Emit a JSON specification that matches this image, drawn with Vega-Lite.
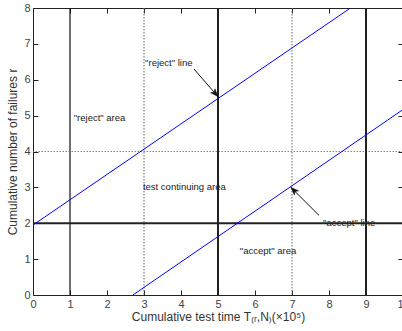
{
  "$schema": "https://vega.github.io/schema/vega-lite/v6.json",
  "width": 370,
  "height": 287,
  "autosize": "none",
  "padding": {"left": 33, "top": 8, "right": 0, "bottom": 36},
  "background": "white",
  "config": {
    "font": "Liberation Sans",
    "view": {"stroke": "#222", "strokeWidth": 1},
    "axis": {
      "grid": false, "domain": false, "tickColor": "#222", "tickSize": -5, "labelFlush": false,
      "labelColor": "#444", "labelFontSize": 11, "titleFontSize": 12,
      "titleFontWeight": "normal", "titleColor": "#333", "labelFont": "Liberation Sans", "titleFont": "Liberation Sans"
    }
  },
  "layer": [
    {
      "data": {"values": [{"x": 0, "y": 0}]},
      "mark": {"type": "point", "opacity": 0},
      "encoding": {
        "x": {"field": "x", "type": "quantitative", "scale": {"domain": [0, 10], "nice": false},
              "axis": {"orient": "bottom", "values": [0,1,2,3,4,5,6,7,8,9,10], "labelPadding": 8, "title": "Cumulative test time T₍ᵣ,N₎(×10⁵)", "titleY": 16}},
        "y": {"field": "y", "type": "quantitative", "scale": {"domain": [0, 8], "nice": false},
              "axis": {"orient": "left", "values": [0,1,2,3,4,5,6,7,8], "labelPadding": 8, "title": "Cumulative number of failures  r", "titleX": -14}}
      }
    },
    {
      "data": {"values": [{"x": 0, "y": 0}]},
      "mark": {"type": "point", "opacity": 0},
      "encoding": {
        "x": {"field": "x", "type": "quantitative", "scale": {"domain": [0, 10], "nice": false},
              "axis": {"orient": "top", "values": [0,1,2,3,4,5,6,7,8,9,10], "labels": false, "title": null}},
        "y": {"field": "y", "type": "quantitative", "scale": {"domain": [0, 8], "nice": false},
              "axis": {"orient": "right", "values": [0,1,2,3,4,5,6,7,8], "labels": false, "title": null}}
      }
    },
    {
      "data": {"values": [{"x": 1}]},
      "mark": {"type": "rule", "color": "#111", "strokeWidth": 1.2},
      "encoding": {"x": {"field": "x", "type": "quantitative", "axis": null}}
    },
    {
      "data": {"values": [{"x": 3}, {"x": 7}]},
      "mark": {"type": "rule", "color": "#666", "strokeWidth": 1, "strokeDash": [1.5, 1.5]},
      "encoding": {"x": {"field": "x", "type": "quantitative", "axis": null}}
    },
    {
      "data": {"values": [{"y": 4}]},
      "mark": {"type": "rule", "color": "#666", "strokeWidth": 0.8, "strokeDash": [1.5, 1.5]},
      "encoding": {"y": {"field": "y", "type": "quantitative", "axis": null}}
    },
    {
      "data": {"values": [{"x": 5}, {"x": 9}]},
      "mark": {"type": "rule", "color": "#222", "strokeWidth": 2},
      "encoding": {"x": {"field": "x", "type": "quantitative", "axis": null}}
    },
    {
      "data": {"values": [{"y": 2}]},
      "mark": {"type": "rule", "color": "#222", "strokeWidth": 2},
      "encoding": {"y": {"field": "y", "type": "quantitative", "axis": null}}
    },
    {
      "data": {"values": [
        {"line": "reject", "x": 0, "y": 1.95},
        {"line": "reject", "x": 8.58, "y": 8},
        {"line": "accept", "x": 2.7, "y": 0},
        {"line": "accept", "x": 10, "y": 5.17}
      ]},
      "mark": {"type": "line", "color": "#0000ff", "strokeWidth": 1, "clip": true},
      "encoding": {
        "x": {"field": "x", "type": "quantitative", "axis": null},
        "y": {"field": "y", "type": "quantitative", "axis": null},
        "detail": {"field": "line"}
      }
    },
    {
      "data": {"values": [
        {"a": 1, "x": 4.35, "y": 6.3},
        {"a": 1, "x": 5.0, "y": 5.53},
        {"a": 2, "x": 7.73, "y": 2.22},
        {"a": 2, "x": 6.97, "y": 3.0}
      ]},
      "mark": {"type": "line", "color": "#111", "strokeWidth": 1},
      "encoding": {
        "x": {"field": "x", "type": "quantitative", "axis": null},
        "y": {"field": "y", "type": "quantitative", "axis": null},
        "detail": {"field": "a"}
      }
    },
    {
      "data": {"values": [
        {"x": 5.0, "y": 5.53, "angle": 138},
        {"x": 6.97, "y": 3.0, "angle": 315}
      ]},
      "mark": {"type": "point", "shape": "M0,0L-0.45,1.2L0,0.9L0.45,1.2Z", "filled": true, "fill": "#111", "stroke": "#111", "strokeWidth": 0.5, "size": 170, "opacity": 1, "fillOpacity": 1},
      "encoding": {
        "x": {"field": "x", "type": "quantitative", "axis": null},
        "y": {"field": "y", "type": "quantitative", "axis": null},
        "angle": {"field": "angle", "type": "quantitative", "scale": null}
      }
    },
    {
      "data": {"values": [
        {"label": "\"reject\" area", "x": 1.1, "y": 4.92},
        {"label": "\"reject\" line", "x": 3.03, "y": 6.47},
        {"label": "test continuing area", "x": 2.97, "y": 3.0},
        {"label": "\"accept\" area", "x": 5.59, "y": 1.22},
        {"label": "\"accept\" line", "x": 7.84, "y": 2.0}
      ]},
      "mark": {"type": "text", "align": "left", "baseline": "middle", "fontSize": 9.5, "color": "#222", "font": "Liberation Sans"},
      "encoding": {
        "x": {"field": "x", "type": "quantitative", "axis": null},
        "y": {"field": "y", "type": "quantitative", "axis": null},
        "text": {"field": "label"}
      }
    }
  ],
  "resolve": {"axis": {"x": "independent", "y": "independent"}}
}
